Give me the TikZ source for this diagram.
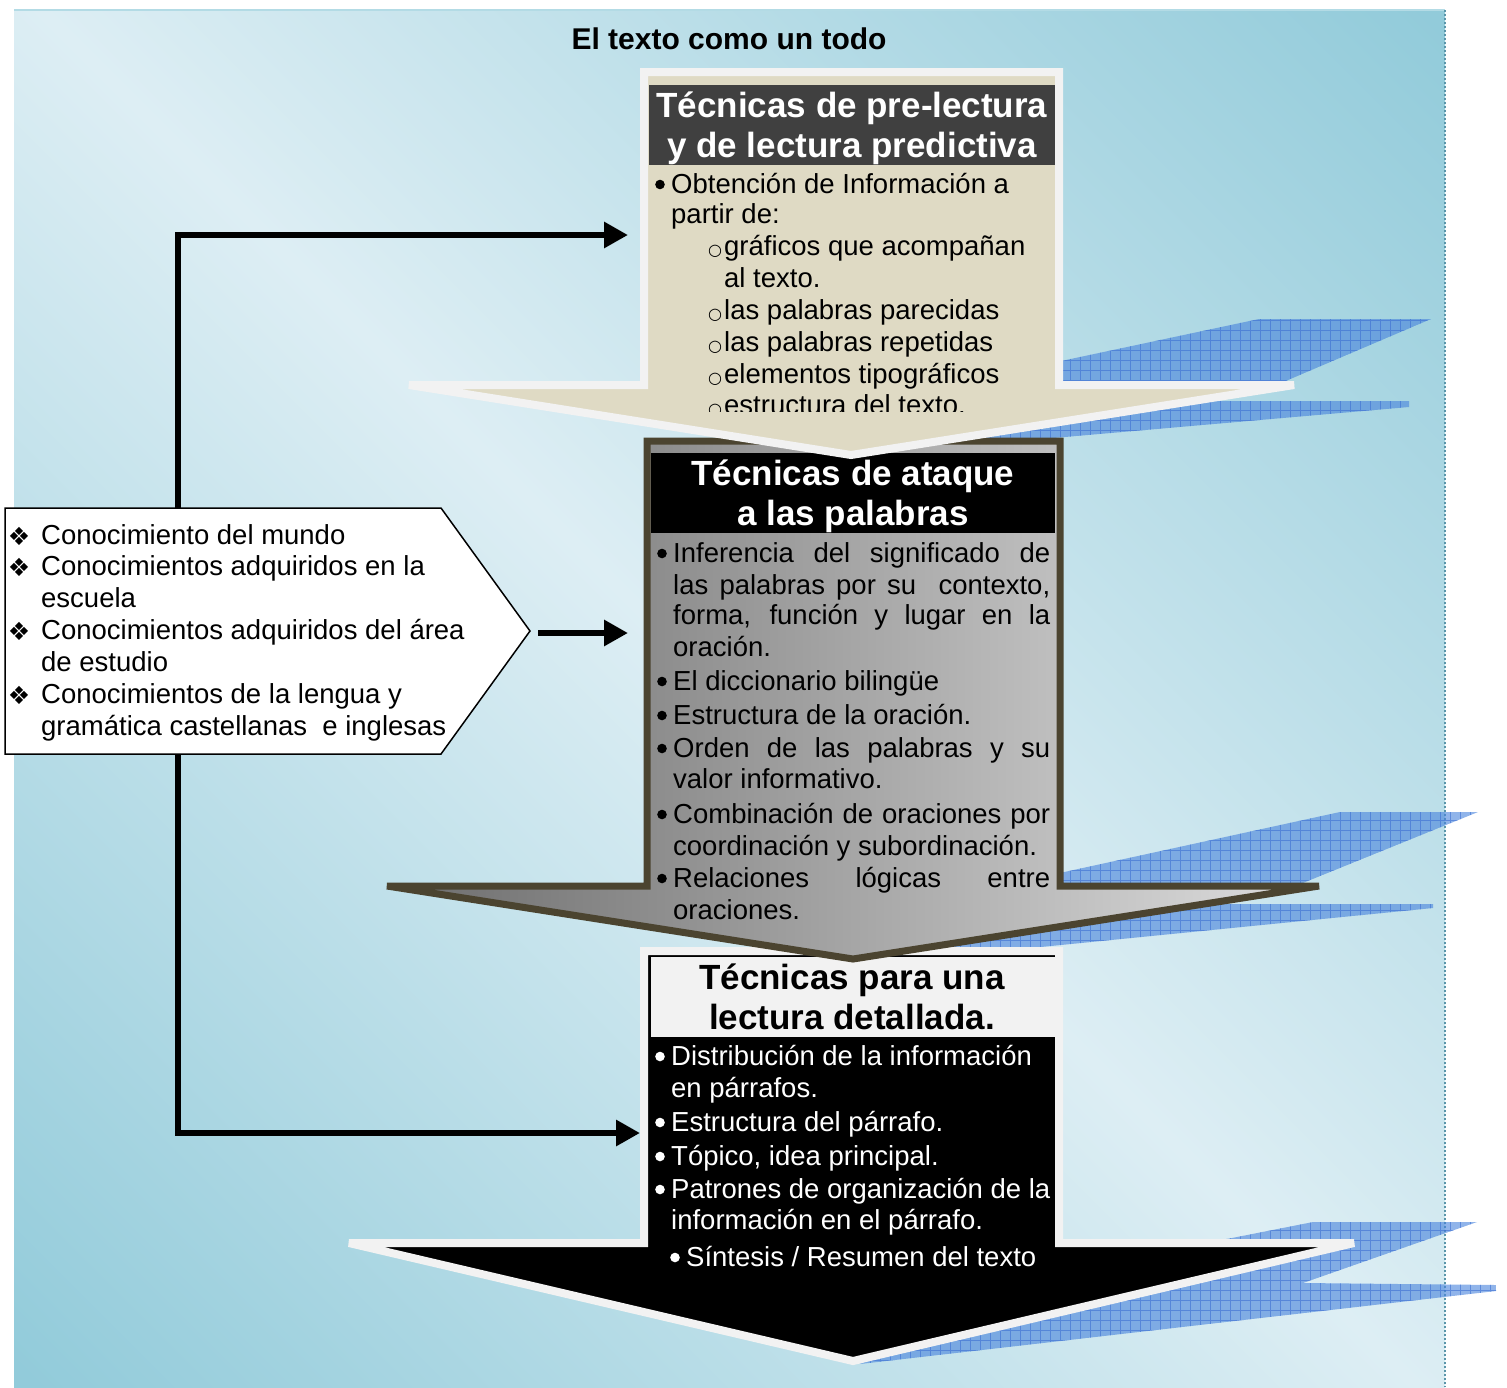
\documentclass[tikz,border=0pt]{standalone}
\usepackage{fontspec}
\setmainfont{Liberation Sans}
\newfontfamily\djv{DejaVu Sans}
\usetikzlibrary{arrows.meta}
\definecolor{bglight}{RGB}{221,238,244}
\definecolor{bgdark}{RGB}{146,203,218}
\definecolor{beige}{RGB}{223,218,196}
\definecolor{offwhite}{RGB}{242,242,242}
\definecolor{olivedark}{RGB}{75,68,48}
\definecolor{titlegray}{RGB}{64,64,64}
\definecolor{shadowblue}{RGB}{70,130,220}
\definecolor{gridblue}{RGB}{60,110,210}
\definecolor{edgeblue}{RGB}{90,150,170}
\pgfdeclarehorizontalshading{bgshade}{100bp}{color(0bp)=(bgdark); color(15bp)=(bgdark); color(50bp)=(bglight); color(85bp)=(bgdark); color(100bp)=(bgdark)}
\newcommand\sbul{\llap{\smash{{\djv\fontsize{16}{16}\selectfont ○}}\hspace{2pt}}}
\newcommand\dia{\llap{\smash{\raisebox{-1pt}{\djv\fontsize{25}{25}\selectfont ❖}}\hspace{11pt}}}
\newcommand\jl[1]{\makebox[377pt][s]{#1}}
\newcommand\dotb[2][black]{\fill[#1] ([xshift=-11pt,yshift=8.5pt]#2.base west) circle (4.8pt);}
\begin{document}
\begin{tikzpicture}[x=1pt,y=-1pt,
  txt/.style={anchor=base west, inner sep=0pt, font=\fontsize{27.5}{32}\selectfont},
  ttl/.style={anchor=base, inner sep=0pt, font=\fontsize{35}{40}\selectfont\bfseries},
  shadowfill/.style={fill=shadowblue, fill opacity=0.6},
  gridl/.style={draw=gridblue, draw opacity=0.6, line width=0.8pt},
  conn/.style={line width=6.5pt, -{Triangle[length=24pt,width=25pt]}},
  line join=miter, miter limit=4]
\useasboundingbox (0,0) rectangle (1507,1387);
\fill[white] (0,0) rectangle (1507,1387);
% background
\shade[shading=bgshade, shading angle=45] (14,10) rectangle (1445,1387);
\draw[bgdark!70!white, line width=2pt] (14,10) -- (1445,10);
\draw[edgeblue, line width=1.5pt, dash pattern=on 2pt off 2pt] (1445,10) -- (1445,1387);
% blue shadows
\newcommand\shadowpoly[1]{%
  \begin{scope}
    \clip #1;
    \fill[shadowfill] #1;
    \draw[gridl, step=10pt] (820,290) grid (1510,1387);
  \end{scope}}
\shadowpoly{(1000,386) -- (1000,374) -- (1259,319) -- (1431,319) -- (1274,386) -- cycle}
\shadowpoly{(1409,401) -- (1409,407) -- (870,454) -- (900,401) -- cycle}
\shadowpoly{(1000,887) -- (1000,886) -- (1340,812) -- (1478,812) -- (1293,887) -- cycle}
\shadowpoly{(1433,904) -- (1433,908) -- (870,964) -- (900,904) -- cycle}
\shadowpoly{(1232,1238) -- (1313,1222) -- (1477,1222) -- (1303,1283) -- (1496,1285) -- (1496,1291) -- (860,1364) -- (1100,1260) -- cycle}
% bottom arrow
\filldraw[fill=black, draw=offwhite, line width=8pt]
  (644,951) -- (1059,951) -- (1059,1243) -- (1354,1243) -- (853,1361) -- (349,1243) -- (644,1243) -- cycle;
\fill[offwhite] (651,957) rectangle (1055,1037);
% middle arrow
\shadedraw[left color=gray!85!black, middle color=gray!40, right color=gray!25, draw=olivedark, line width=7pt]
  (647,441) -- (1060,441) -- (1060,886) -- (1319,886) -- (853,959) -- (387,886) -- (647,886) -- cycle;
\fill[black] (651,453) rectangle (1055,533);
% top arrow
\filldraw[fill=beige, draw=offwhite, line width=8pt]
  (644,72) -- (1059,72) -- (1059,385) -- (1294,385) -- (851,455) -- (409,385) -- (644,385) -- cycle;
\fill[titlegray] (649,85) rectangle (1055,165);
% main title
\node[anchor=base, inner sep=0pt, font=\fontsize{30}{34}\selectfont\bfseries] (maintitle) at (729,49) {El texto como un todo};
% top arrow text
\node[ttl, text=white] (pt1) at (852,117) {Técnicas de pre-lectura};
\node[ttl, text=white] (pt2) at (852,157) {y de lectura predictiva};
\begin{scope}
\clip (600,60) rectangle (1100,411);
\node[txt] (p1) at (671,193) {Obtención de Información a};
\node[txt] (p2) at (671,223) {partir de:};
\node[txt] (p3) at (724,255) {\sbul gráficos que acompañan};
\node[txt] (p4) at (724,287) {al texto.};
\node[txt] (p5) at (724,319) {\sbul las palabras parecidas};
\node[txt] (p6) at (724,351) {\sbul las palabras repetidas};
\node[txt] (p7) at (724,383) {\sbul elementos tipográficos};
\node[txt] (p8) at (724,414) {\sbul estructura del texto.};
\end{scope}
\dotb{p1}
% middle arrow text
\node[ttl, text=white] (mt1) at (853,485) {Técnicas de ataque};
\node[ttl, text=white] (mt2) at (853,525) {a las palabras};
\node[txt] (m1) at (673,562) {\jl{Inferencia del significado de}};
\node[txt] (m2) at (673,594) {\jl{las palabras por su\ \ contexto,}};
\node[txt] (m3) at (673,624) {\jl{forma, función y lugar en la}};
\node[txt] (m4) at (673,656) {oración.};
\node[txt] (m5) at (673,690) {El diccionario bilingüe};
\node[txt] (m6) at (673,724) {Estructura de la oración.};
\node[txt] (m7) at (673,757) {\jl{Orden de las palabras y su}};
\node[txt] (m8) at (673,788) {valor informativo.};
\node[txt] (m9) at (673,823) {\jl{Combinación de oraciones por}};
\node[txt] (m10) at (673,855) {coordinación y subordinación.};
\node[txt] (m11) at (673,887) {\jl{Relaciones lógicas entre}};
\node[txt] (m12) at (673,919) {oraciones.};
\dotb{m1}\dotb{m5}\dotb{m6}\dotb{m7}\dotb{m9}\dotb{m11}
% bottom arrow text
\node[ttl, text=black] (bt1) at (852,989) {Técnicas para una};
\node[ttl, text=black] (bt2) at (852,1029) {lectura detallada.};
\node[txt, text=white] (b1) at (671,1065) {Distribución de la información};
\node[txt, text=white] (b2) at (671,1097) {en párrafos.};
\node[txt, text=white] (b3) at (671,1131) {Estructura del párrafo.};
\node[txt, text=white] (b4) at (671,1165) {Tópico, idea principal.};
\node[txt, text=white] (b5) at (671,1198) {Patrones de organización de la};
\node[txt, text=white] (b6) at (671,1229) {información en el párrafo.};
\node[txt, text=white] (b7) at (686,1266) {Síntesis / Resumen del texto};
\dotb[white]{b1}\dotb[white]{b3}\dotb[white]{b4}\dotb[white]{b5}\dotb[white]{b7}
% left knowledge box
\node[inner sep=0pt, minimum width=436pt, minimum height=246pt] (know) at (223,631) {};
\filldraw[fill=white, draw=black, line width=1.5pt]
  (5,508) -- (441,508) -- (530,631) -- (441,754) -- (5,754) -- cycle;
\node[txt] (k1) at (41,544) {\dia Conocimiento del mundo};
\node[txt] (k2) at (41,575) {\dia Conocimientos adquiridos en la};
\node[txt] (k3) at (41,607) {escuela};
\node[txt] (k4) at (41,639) {\dia Conocimientos adquiridos del área};
\node[txt] (k5) at (41,671) {de estudio};
\node[txt] (k6) at (41,703) {\dia Conocimientos de la lengua y};
\node[txt] (k7) at (41,735) {gramática castellanas\ \ e inglesas};
% connectors
\coordinate (ktop) at (178,508);
\coordinate (kbot) at (178,754);
\coordinate (kright) at (538,633);
\coordinate (intop) at (628,235);
\coordinate (inmid) at (628,633);
\coordinate (inbot) at (640,1133);
\draw[conn] (ktop) |- (intop);
\draw[conn] (kright) -- (inmid);
\draw[conn] (kbot) |- (inbot);
\end{tikzpicture}
\end{document}
